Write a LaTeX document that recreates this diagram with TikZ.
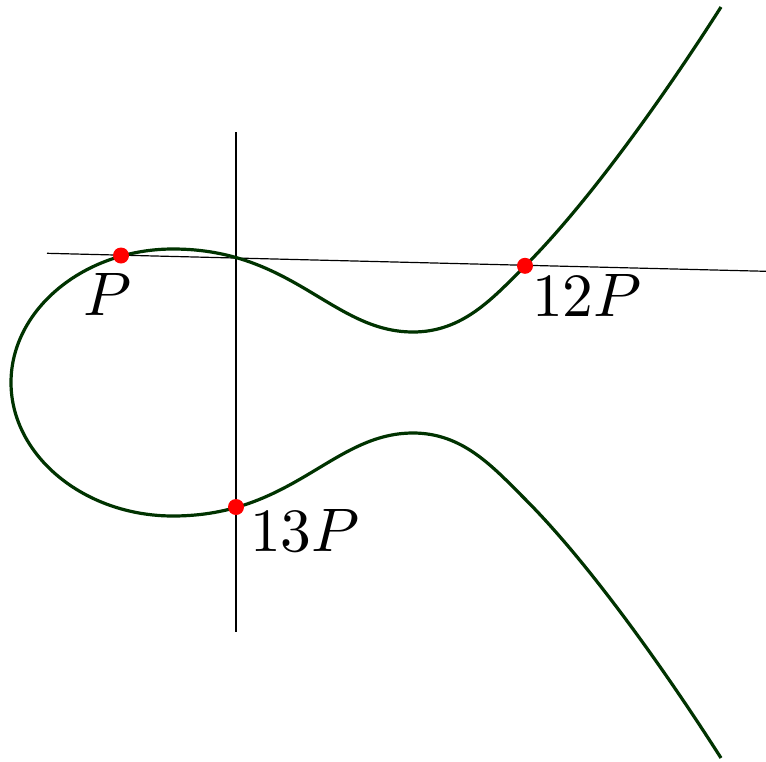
\documentclass[tikz,border=0pt]{standalone}
\usetikzlibrary{calc}
\definecolor{curvegreen}{RGB}{0,51,0}
\newcommand{\biglabel}[1]{\scalebox{6.15}{\normalsize$#1$}}
\tikzset{
  thinline/.style={black, line width=1.2pt},
  ecurve/.style={curvegreen, line width=3.2pt},
  dot/.style={circle, fill=red, draw=none, minimum size=16pt, inner sep=0pt},
  lbl/.style={anchor=base west, inner sep=0pt}
}
\begin{document}
\begin{tikzpicture}[x=1pt, y=-1pt]
\useasboundingbox (0,0) rectangle (766,761);
% construction lines
\coordinate (L1) at (47,253.3);
\coordinate (L2) at (766,271.3);
\coordinate (V1) at (236,132);
\coordinate (V2) at (236,632);
\draw[thinline] (L1) -- (L2);
\draw[thinline] (V1) -- (V2);
% elliptic curve
\draw[ecurve] (721,7)
  .. controls (670,87) and (592,199) .. (525,266)
  .. controls (493,298) and (463,332) .. (413,332)
  .. controls (333,332) and (293,249) .. (173,249)
  .. controls (84,249) and (11,309.5) .. (11,382.5)
  .. controls (11,455.5) and (84,516) .. (173,516)
  .. controls (293,516) and (333,433) .. (413,433)
  .. controls (463,433) and (493,467) .. (525,499)
  .. controls (592,566) and (670,678) .. (721,758);
% points
\node[dot] (P) at (121,255.5) {};
\node[dot] (Q) at (525,265.8) {};
\node[dot] (R) at (236,507) {};
% labels
\node[lbl] (lP) at (83,315) {\biglabel{P}};
\node[lbl] (lQ) at (532,316) {\biglabel{12P}};
\node[lbl] (lR) at (250,551.5) {\biglabel{13P}};
\end{tikzpicture}
\end{document}
